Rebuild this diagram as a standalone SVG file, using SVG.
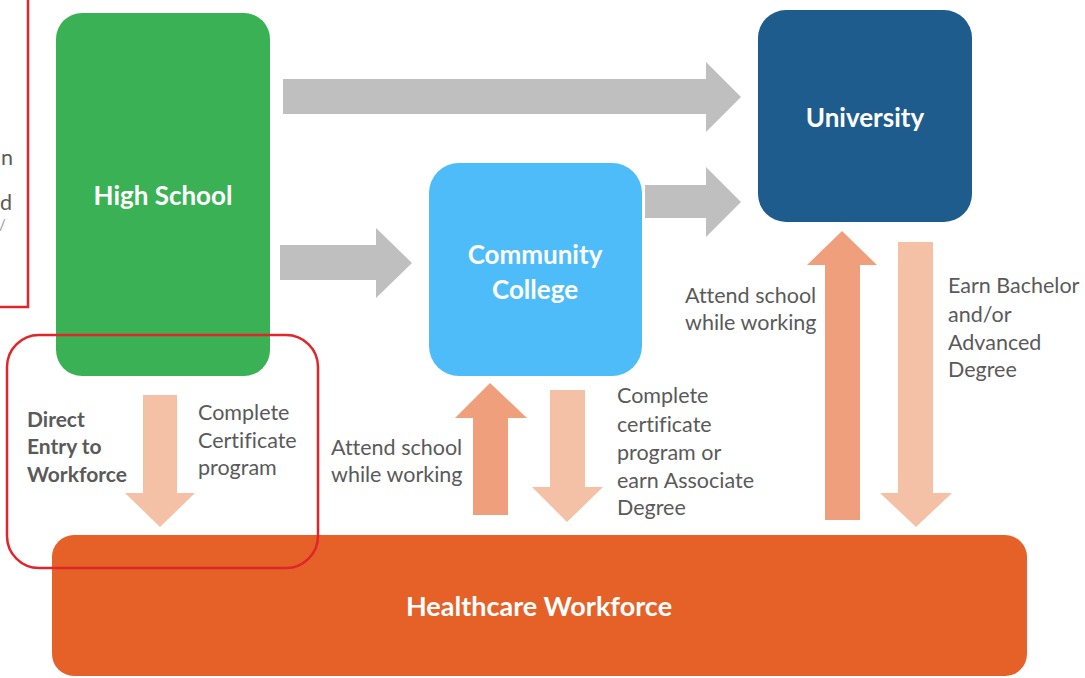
<svg xmlns="http://www.w3.org/2000/svg" width="1085" height="678" viewBox="0 0 1085 678">
<style>
text{font-variant-ligatures:none}
.title{font-family:Lato,"Liberation Sans",sans-serif;font-weight:bold;font-size:26px;fill:#ffffff;text-anchor:middle}
.lbl{font-family:Lato,"Liberation Sans",sans-serif;font-size:21.5px;fill:#5a5a5a}
.lblb{font-family:Lato,"Liberation Sans",sans-serif;font-size:21px;font-weight:bold;fill:#5a5a5a}
.gray{fill:#bfbfbf}
.peach{fill:#f4c1a7}
.dpeach{fill:#ef9f7c}
.redbox{fill:none;stroke:#e0262b;stroke-width:2.5}
</style>
<rect width="1085" height="678" fill="#ffffff"/>
<g id="legend-box">
<rect class="redbox" x="-20" y="-10" width="48" height="317"/>
<text class="lbl" x="1" y="165">n</text>
<text class="lbl" x="0" y="210">d</text>
<text class="lbl" x="-1" y="230" style="font-size:15px;fill:#999">/</text>
</g>
<g id="connectors">
<polygon class="gray" points="283,79 706,79 706,62 741,97 706,132 706,114 283,114"/>
<polygon class="gray" points="645,185 706,185 706,167 741,202 706,237 706,218 645,218"/>
<polygon class="gray" points="280,245 376,245 376,228 412,263 376,298 376,280 280,280"/>
<polygon class="peach" points="143,395 177,395 177,493 195,493 160,527 125,493 143,493"/>
<polygon class="dpeach" points="473,515 508,515 508,418 527,418 490,383 455,418 473,418"/>
<polygon class="peach" points="550,390 585,390 585,487 603,487 567,522 532,487 550,487"/>
<polygon class="dpeach" points="825,520 860,520 860,265 877,265 842,231 807,265 825,265"/>
<polygon class="peach" points="898,242 933,242 933,493 952,493 916,527 880,493 898,493"/>
</g>
<g id="high-school">
<rect x="56" y="13" width="214" height="363" rx="26" fill="#3bb155"/>
<text class="title" x="163" y="205">High School</text>
</g>
<g id="community-college">
<rect x="429" y="163" width="213" height="213" rx="30" fill="#4dbcf9"/>
<text class="title" x="535" y="264">Community</text>
<text class="title" x="535" y="299">College</text>
</g>
<g id="university">
<rect x="758" y="10" width="214" height="212" rx="28" fill="#1e5c8d"/>
<text class="title" x="865" y="127">University</text>
</g>
<g id="healthcare-workforce">
<rect x="52" y="535" width="975" height="141" rx="22" fill="#e56127"/>
<text class="title" x="539" y="616" style="font-size:27px">Healthcare Workforce</text>
</g>
<g id="direct-entry">
<rect class="redbox" x="7" y="335" width="311" height="233" rx="32"/>
</g>
<g id="labels">
<text class="lblb" x="27" y="427">Direct</text>
<text class="lblb" x="27" y="454">Entry to</text>
<text class="lblb" x="27" y="482">Workforce</text>
<text class="lbl" x="198" y="420">Complete</text>
<text class="lbl" x="198" y="448">Certificate</text>
<text class="lbl" x="198" y="475">program</text>
<text class="lbl" x="331" y="455">Attend school</text>
<text class="lbl" x="331" y="482">while working</text>
<text class="lbl" x="617" y="403">Complete</text>
<text class="lbl" x="617" y="432">certificate</text>
<text class="lbl" x="617" y="460">program or</text>
<text class="lbl" x="617" y="488">earn Associate</text>
<text class="lbl" x="617" y="515">Degree</text>
<text class="lbl" x="685" y="303">Attend school</text>
<text class="lbl" x="685" y="330">while working</text>
<text class="lbl" x="948" y="293">Earn Bachelor</text>
<text class="lbl" x="948" y="322">and/or</text>
<text class="lbl" x="948" y="350">Advanced</text>
<text class="lbl" x="948" y="377">Degree</text>
</g>
</svg>
